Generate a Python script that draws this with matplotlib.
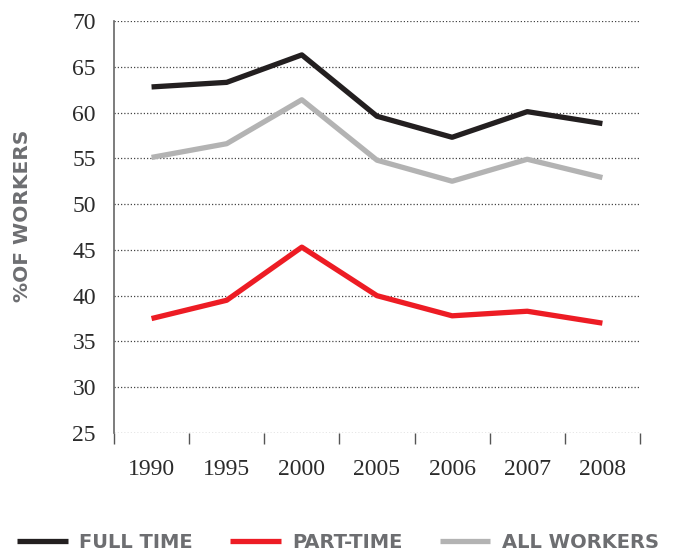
import matplotlib
matplotlib.use("Agg")
import matplotlib.pyplot as plt
import numpy as np

# données
years = ['1990', '1995', '2000', '2005', '2006', '2007', '2008']
full_time = [62.8, 63.3, 66.3, 59.6, 57.3, 60.1, 58.8]
part_time = [37.5, 39.5, 45.3, 40.0, 37.8, 38.3, 37.0]
all_workers = [55.1, 56.6, 61.4, 54.8, 52.5, 54.9, 52.9]

black = '#231f20'
red = '#ed1c24'
grey = '#b3b3b3'
text_grey = '#6d6e71'

fig = plt.figure(figsize=(6.76, 5.53), dpi=100)
ax = fig.add_axes([0.1686, 0.217, 0.7781, 0.745])

x = np.arange(len(years)) + 0.5
lw = 3.8
ax.plot(x, full_time, color=black, lw=lw, solid_capstyle='butt', label='FULL TIME')
ax.plot(x, part_time, color=red, lw=lw, solid_capstyle='butt', label='PART-TIME')
ax.plot(x, all_workers, color=grey, lw=lw, solid_capstyle='butt', label='ALL WORKERS')

ax.set_xlim(0, len(years))
ax.set_ylim(25, 70)
ax.set_yticks(range(25, 71, 5))
ax.yaxis.grid(True, color='#444444', lw=0.9, linestyle=(0, (1, 1.6)))
ax.set_axisbelow(True)

# ticks aux frontières, étiquettes au centre
ax.set_xticks(range(0, len(years) + 1))
ax.set_xticklabels([])
ax.set_xticks(x, minor=True)
ax.set_xticklabels(years, minor=True, fontsize=17, family='Liberation Serif', color='#2b2b2b')
ax.tick_params(axis='x', which='major', direction='out', length=8, width=1, color='#555555')
ax.tick_params(axis='x', which='minor', length=0, pad=19)
ax.tick_params(axis='y', length=0, pad=13)
for lab in ax.get_yticklabels():
    lab.set_family('Liberation Serif')
    lab.set_fontsize(17)
    lab.set_color('#2b2b2b')

for s in ['top', 'right', 'bottom']:
    ax.spines[s].set_visible(False)
ax.spines['left'].set_color('#666666')
ax.spines['left'].set_linewidth(1.2)

fig.text(0.033, 0.61, '%OF WORKERS', rotation=90, ha='center', va='center',
         fontsize=14.5, fontweight='bold', color=text_grey, family='DejaVu Sans')

leg = fig.legend(loc='lower center', bbox_to_anchor=(0.5, -0.03), ncol=3, frameon=False,
                 handlelength=2.6, columnspacing=1.9, handletextpad=0.6,
                 prop={'family': 'DejaVu Sans', 'size': 14, 'weight': 'bold'})
for t in leg.get_texts():
    t.set_color(text_grey)

fig.savefig('out.png', dpi=100)
